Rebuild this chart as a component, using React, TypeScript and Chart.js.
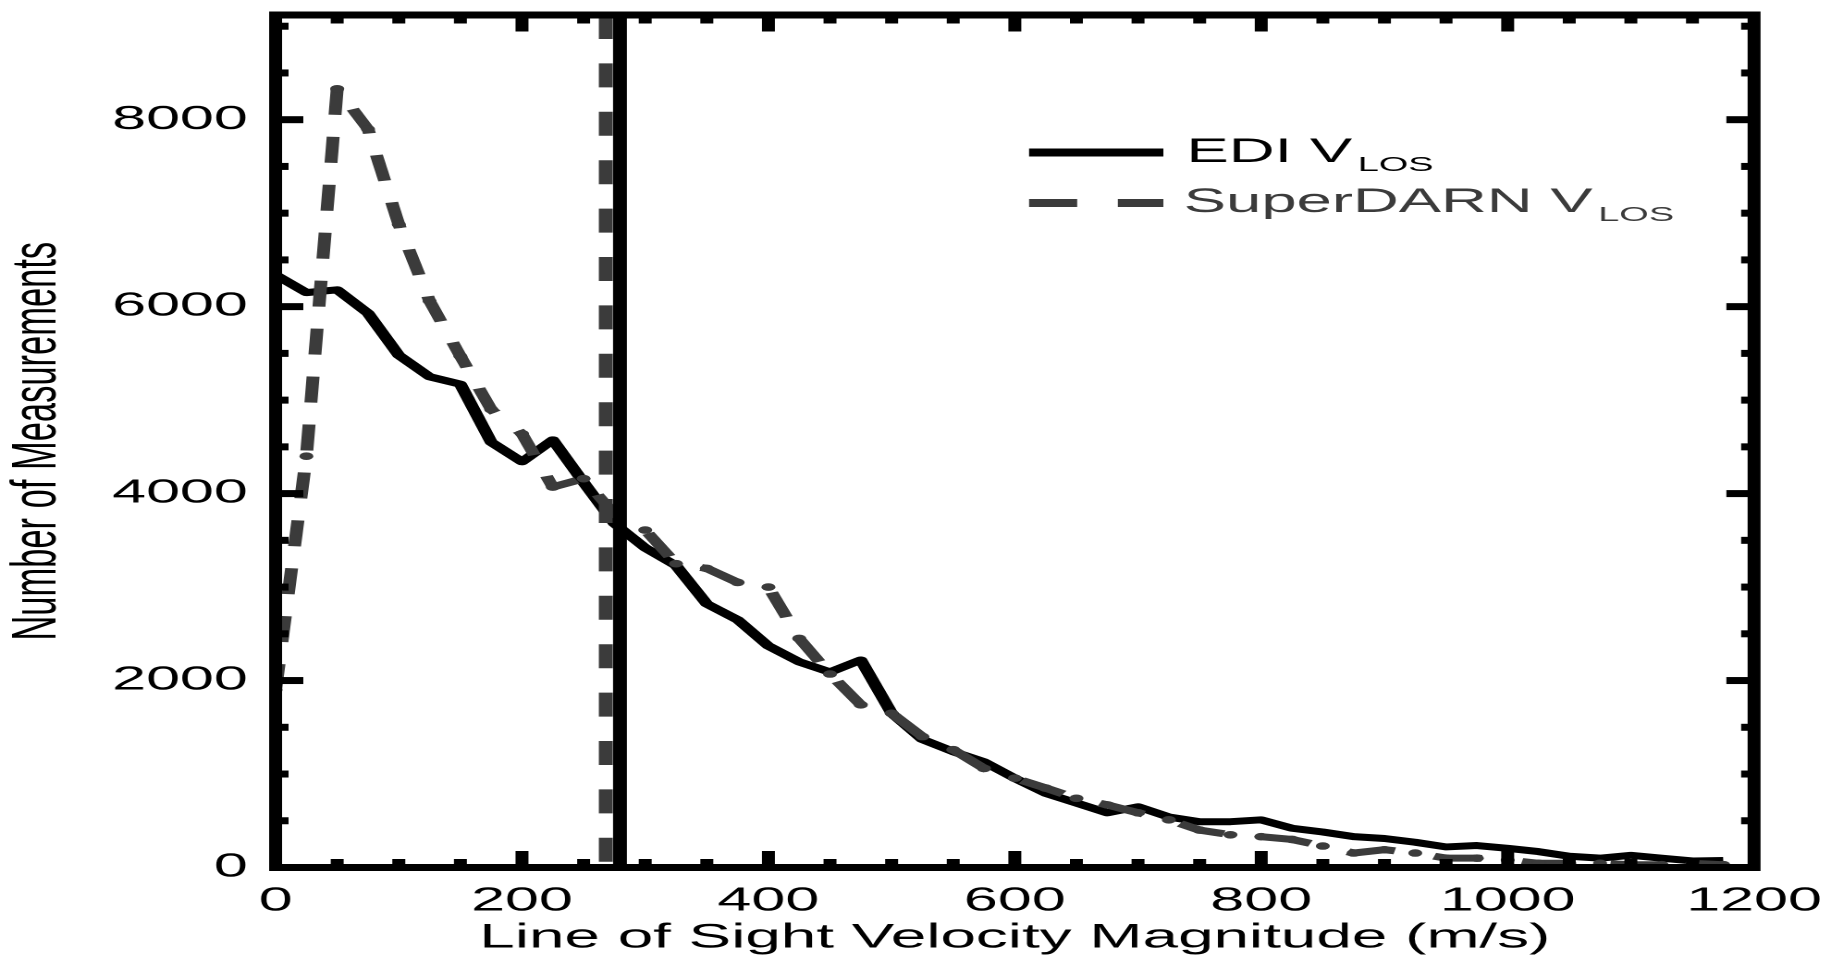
import React, { useEffect, useRef } from 'react';
import { Chart, registerables } from 'chart.js';

Chart.register(...registerables);

// Histogram bins (m/s) and counts per bin
const VELOCITY_BINS = [
  0, 25, 50, 75, 100, 125, 150, 175, 200, 225, 250, 275, 300, 325, 350, 375,
  400, 425, 450, 475, 500, 525, 550, 575, 600, 625, 650, 675, 700, 725, 750, 775,
  800, 825, 850, 875, 900, 925, 950, 975, 1000, 1025, 1050, 1075, 1100, 1125, 1150, 1175,
];

const EDI_COUNTS = [
  6340, 6150, 6180, 5930, 5480, 5250, 5170, 4550, 4340, 4575, 4120, 3680, 3420, 3230, 2820, 2650,
  2370, 2200, 2090, 2220, 1650, 1370, 1240, 1130, 955, 795, 690, 585, 650, 540, 490, 490,
  510, 420, 380, 330, 310, 270, 220, 235, 205, 170, 120, 100, 130, 100, 70, 75,
];

const SUPERDARN_COUNTS = [
  1900, 4400, 8330, 7900, 6880, 6060, 5470, 4900, 4640, 4070, 4160, 3780, 3610, 3250, 3200, 3050,
  3000, 2450, 2070, 1740, 1650, 1400, 1260, 1060, 955, 850, 740, 670, 585, 510, 400, 350,
  330, 300, 230, 155, 190, 155, 100, 100, 80, 45, 45, 45, 30, 30, 45, 30,
];

// Reference velocities marked by vertical lines
const SUPERDARN_MARKER = 268;
const EDI_MARKER = 279.5;

// Axes
const X_TICKS = [0, 200, 400, 600, 800, 1000, 1200];
const Y_TICKS = [0, 2000, 4000, 6000, 8000];
const X_MIN = 0;
const X_MAX = 1200;
const Y_MIN = 0;
const Y_MAX = 9120;
const X_MINOR_STEP = 50;
const Y_MINOR_STEP = 500;

const LEGEND_ITEMS = ['EDI V', 'SuperDARN V'];
const LEGEND_SUB = 'LOS';

const FONT = '"Liberation Sans", Arial, Helvetica, sans-serif';
const GREY = '#3b3b3b';

// The plot is laid out on a narrow canvas and widened horizontally by CSS.
const CANVAS_W = 990;
const CANVAS_H = 956;
const STRETCH = 1831 / CANVAS_W;

const framePlugin = {
  id: 'idlFrame',
  afterDatasetsDraw(chart: any) {
    const { ctx, chartArea } = chart;
    const { left, right, top, bottom } = chartArea;
    const xs = chart.scales.x;
    const ys = chart.scales.y;
    ctx.save();
    ctx.strokeStyle = '#000';
    ctx.lineCap = 'butt';
    ctx.lineWidth = 7;
    const seg = (x1: number, y1: number, x2: number, y2: number) => {
      ctx.beginPath();
      ctx.moveTo(x1, y1);
      ctx.lineTo(x2, y2);
      ctx.stroke();
    };
    // x-axis ticks on bottom and top edges
    for (let v = X_MIN + X_MINOR_STEP; v < X_MAX; v += X_MINOR_STEP) {
      const major = X_TICKS.includes(v);
      const len = major ? 16.5 : 8.5;
      const px = xs.getPixelForValue(v);
      seg(px, bottom, px, bottom - len);
      seg(px, top, px, top + len);
    }
    // y-axis ticks on left and right edges
    for (let v = Y_MIN + Y_MINOR_STEP; v < Y_MAX; v += Y_MINOR_STEP) {
      const major = Y_TICKS.includes(v);
      const len = major ? 15 : 7;
      const py = ys.getPixelForValue(v);
      seg(left, py, left + len, py);
      seg(right, py, right - len, py);
    }
    ctx.lineJoin = 'miter';
    ctx.strokeRect(left, top, right - left, bottom - top);
    ctx.restore();
  },
};

const legendPlugin = {
  id: 'subscriptLegend',
  afterDraw(chart: any) {
    const { ctx } = chart;
    const rows = [
      { text: LEGEND_ITEMS[0], color: '#000', dash: [] as number[], lineY: 152.5, base: 162, textX: 641.5 },
      { text: LEGEND_ITEMS[1], color: GREY, dash: [26, 22], lineY: 203, base: 212, textX: 640 },
    ];
    ctx.save();
    for (const r of rows) {
      ctx.strokeStyle = r.color;
      ctx.lineWidth = 8;
      ctx.lineCap = 'butt';
      ctx.setLineDash(r.dash);
      ctx.beginPath();
      ctx.moveTo(556.4, r.lineY);
      ctx.lineTo(629, r.lineY);
      ctx.stroke();
      ctx.setLineDash([]);
      ctx.fillStyle = r.color;
      ctx.textBaseline = 'alphabetic';
      ctx.textAlign = 'left';
      ctx.font = `34.3px ${FONT}`;
      ctx.fillText(r.text, r.textX, r.base);
      const w = ctx.measureText(r.text).width;
      ctx.font = `20.5px ${FONT}`;
      ctx.fillText(LEGEND_SUB, r.textX + w + 3, r.base + 9);
    }
    ctx.restore();
  },
};

export default function App() {
  const canvasRef = useRef<HTMLCanvasElement | null>(null);

  useEffect(() => {
    const canvas = canvasRef.current;
    if (!canvas) return;

    const ediPoints = VELOCITY_BINS.map((v, i) => ({ x: v, y: EDI_COUNTS[i] }));
    const sdPoints = VELOCITY_BINS.map((v, i) => ({ x: v, y: SUPERDARN_COUNTS[i] }));

    const chart = new Chart(canvas, {
      type: 'line',
      data: {
        datasets: [
          {
            label: 'EDI mean',
            data: [{ x: EDI_MARKER, y: Y_MAX }, { x: EDI_MARKER, y: Y_MIN }],
            borderColor: '#000',
            borderWidth: 7.5,
            pointRadius: 0,
            order: 0,
          },
          {
            label: 'SuperDARN mean',
            data: [{ x: SUPERDARN_MARKER, y: Y_MAX }, { x: SUPERDARN_MARKER, y: Y_MIN }],
            borderColor: GREY,
            borderWidth: 7.5,
            borderDash: [24, 24.4],
            pointRadius: 0,
            order: 1,
          },
          {
            label: 'SuperDARN VLOS',
            data: sdPoints,
            borderColor: GREY,
            borderWidth: 7,
            borderDash: [26, 22],
            borderJoinStyle: 'round',
            pointRadius: 3.8,
            pointBorderWidth: 0,
            pointBackgroundColor: GREY,
            tension: 0,
            order: 2,
          },
          {
            label: 'EDI VLOS',
            data: ediPoints,
            borderColor: '#000',
            borderWidth: 7,
            borderJoinStyle: 'round',
            pointRadius: 0,
            tension: 0,
            order: 3,
          },
        ],
      },
      options: {
        responsive: false,
        maintainAspectRatio: false,
        devicePixelRatio: 2,
        animation: false,
        events: [],
        layout: { padding: { top: 15, right: CANVAS_W - 948.4, bottom: 0, left: 0 } },
        plugins: {
          legend: { display: false },
          tooltip: { enabled: false },
          title: { display: false },
        },
        scales: {
          x: {
            type: 'linear',
            min: X_MIN,
            max: X_MAX,
            grid: { display: false, drawTicks: false },
            border: { display: false },
            afterBuildTicks: (s: any) => {
              s.ticks = X_TICKS.map((value) => ({ value }));
            },
            afterFit: (s: any) => {
              s.height = CANVAS_H - 867.5;
              s.paddingLeft = 0;
              s.paddingRight = 0;
            },
            ticks: {
              color: '#000',
              padding: 14,
              maxRotation: 0,
              font: { family: FONT, size: 33, lineHeight: 1.2 },
              callback: (v: any) => String(v),
            },
            title: {
              display: true,
              text: 'Line of Sight Velocity Magnitude (m/s)',
              color: '#000',
              padding: 0,
              font: { family: FONT, size: 34.5, lineHeight: 1.05 },
            },
          },
          y: {
            type: 'linear',
            min: Y_MIN,
            max: Y_MAX,
            grid: { display: false, drawTicks: false },
            border: { display: false },
            afterBuildTicks: (s: any) => {
              s.ticks = Y_TICKS.map((value) => ({ value }));
            },
            afterFit: (s: any) => {
              s.width = 149;
              s.paddingTop = 0;
              s.paddingBottom = 0;
            },
            ticks: {
              color: '#000',
              padding: 15,
              font: { family: FONT, size: 33, lineHeight: 1.2 },
              callback: (v: any) => String(v),
            },
            title: {
              display: true,
              text: 'Number of Measurements',
              color: '#000',
              padding: 0,
              font: { family: FONT, size: 34.5, lineHeight: 1.2 },
            },
          },
        },
      },
      plugins: [framePlugin, legendPlugin],
    } as any);

    return () => chart.destroy();
  }, []);

  return (
    <div
      style={{
        position: 'fixed',
        left: 0,
        top: 0,
        width: 1831,
        height: 956,
        overflow: 'hidden',
        background: '#fff',
      }}
    >
      <div
        style={{
          width: CANVAS_W,
          height: CANVAS_H,
          transform: `scaleX(${STRETCH})`,
          transformOrigin: '0 0',
        }}
      >
        <canvas
          ref={canvasRef}
          width={CANVAS_W}
          height={CANVAS_H}
          style={{ width: CANVAS_W, height: CANVAS_H, display: 'block' }}
        />
      </div>
    </div>
  );
}
